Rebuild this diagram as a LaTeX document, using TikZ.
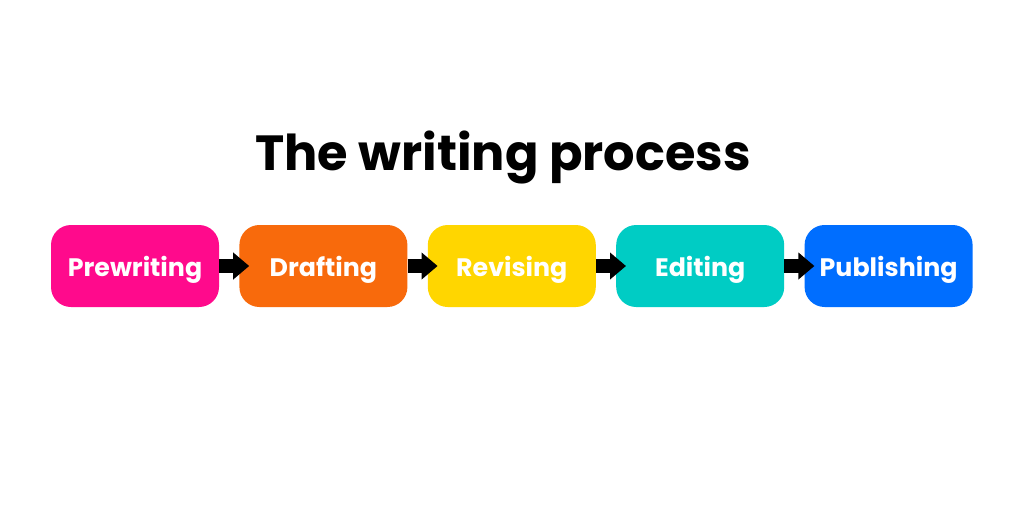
\documentclass[tikz,border=0pt]{standalone}
\usepackage{fontspec}
\setmainfont{Poppins}
\usetikzlibrary{positioning,arrows.meta}
\definecolor{prewritecol}{RGB}{255,10,140}
\definecolor{draftcol}{RGB}{248,106,12}
\definecolor{revisecol}{RGB}{255,214,0}
\definecolor{editcol}{RGB}{0,204,196}
\definecolor{publishcol}{RGB}{0,110,255}
\tikzset{
  stage/.style={rounded corners=20pt, minimum width=168pt, minimum height=82pt,
    inner sep=0pt, text depth=0pt, text=white, font=\bfseries\fontsize{25.3}{28}\selectfont},
  flow/.style={line width=14pt, -{Triangle[length=16pt,width=26pt]}}
}
\begin{document}
\begin{tikzpicture}[x=1pt,y=-1pt]
    % Page
    \useasboundingbox[fill=white] (0,0) rectangle (1024,512);

    % Title
    \node (title) at (503,158) {\bfseries\fontsize{49.4}{58}\selectfont The writing process};

    % Stages
    \node[stage, fill=prewritecol] (prewriting) at (135,266) {Prewriting};
    \node[stage, fill=draftcol, right=20pt of prewriting] (drafting) {Drafting};
    \node[stage, fill=revisecol, right=20pt of drafting] (revising) {Revising};
    \node[stage, fill=editcol, right=20pt of revising] (editing) {Editing};
    \node[stage, fill=publishcol, right=20pt of editing] (publishing) {Publishing};

    % Arrows between stages
    \foreach \a/\b in {prewriting/drafting, drafting/revising, revising/editing, editing/publishing}
        \draw[flow] (\a.east) -- ([xshift=10pt]\b.west);
\end{tikzpicture}
\end{document}
